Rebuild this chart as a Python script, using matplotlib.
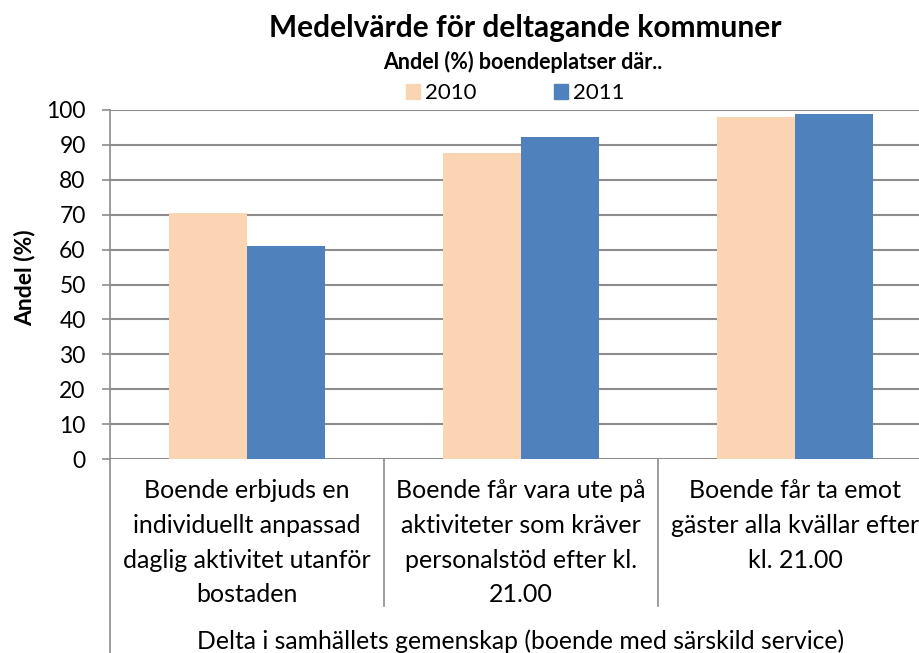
import matplotlib
matplotlib.use('Agg')
import matplotlib.pyplot as plt
from matplotlib.patches import Patch
import numpy as np

plt.rcParams['font.family'] = ['Lato', 'DejaVu Sans']

# data
categories = [
    'Boende erbjuds en\nindividuellt anpassad\ndaglig aktivitet utanför\nbostaden',
    'Boende får vara ute på\naktiviteter som kräver\npersonalstöd efter kl.\n21.00',
    'Boende får ta emot\ngäster alla kvällar efter\nkl. 21.00',
]
years = ['2010', '2011']
values_2010 = [70.4, 87.6, 98.0]
values_2011 = [61.0, 92.3, 98.8]
yticks = list(range(0, 101, 10))

col_2010 = '#FBD4B4'
col_2011 = '#4F81BD'
grid_col = '#8C8C8C'

W, H = 919, 653
fig = plt.figure(figsize=(W / 100, H / 100), dpi=100)

def fx(px):
    return px / W

def fy(py):
    return 1 - py / H

# plot area runs a bit past the right edge (cropped in the original)
ax = fig.add_axes([fx(110), fy(459), fx(822), 349 / H])

x = np.arange(len(categories))
w = 0.285
ax.bar(x - w / 2, values_2010, w, color=col_2010, zorder=3)
ax.bar(x + w / 2, values_2011, w, color=col_2011, zorder=3)

ax.set_xlim(-0.5, 2.5)
ax.set_ylim(0, 100)
ax.set_yticks(yticks)
ax.set_yticklabels([str(t) for t in yticks], fontsize=16.5)
ax.tick_params(axis='y', length=5.5, width=1.2, color=grid_col, pad=12)
ax.set_xticks([])
ax.yaxis.grid(True, color=grid_col, linewidth=1.5, zorder=0)
for s in ['top', 'right', 'bottom']:
    ax.spines[s].set_visible(False)
ax.spines['left'].set_color(grid_col)
ax.spines['left'].set_linewidth(1.2)
ax.set_ylabel('Andel (%)', fontsize=16.5, fontweight='bold')
ax.yaxis.set_label_coords((35 - 110) / 822, (459 - 278) / 349)

# category labels and separators below the axis
trans = matplotlib.transforms.blended_transform_factory(ax.transData, fig.transFigure)
for i, lab in enumerate(categories):
    ax.text(i, fy(479), lab, transform=trans, ha='center', va='top',
            fontsize=18, linespacing=1.62, clip_on=False)
for xs in [0.5, 1.5]:
    ax.plot([xs, xs], [fy(459), fy(606)], transform=trans, color=grid_col,
            linewidth=1.2, clip_on=False)
ax.plot([-0.5, -0.5], [fy(459), 0], transform=trans, color=grid_col,
        linewidth=1.2, clip_on=False)
fig.text(fx(521), fy(641), 'Delta i samhällets gemenskap (boende med särskild service)',
         ha='center', va='center', fontsize=17.8)

# titles
fig.text(fx(525), fy(28), 'Medelvärde för deltagande kommuner', ha='center', va='center',
         fontsize=21.5, fontweight='bold')
fig.text(fx(523), fy(62), 'Andel (%) boendeplatser där..', ha='center', va='center',
         fontsize=15.5, fontweight='bold')

handles = [Patch(color=col_2010), Patch(color=col_2011)]
fig.legend(handles, years, loc='center', bbox_to_anchor=(fx(515), fy(93)), ncol=2,
           frameon=False, fontsize=16, handlelength=0.65, handleheight=0.65,
           handletextpad=0.2, columnspacing=3.5, borderpad=0)

fig.savefig('out.png', dpi=100)
